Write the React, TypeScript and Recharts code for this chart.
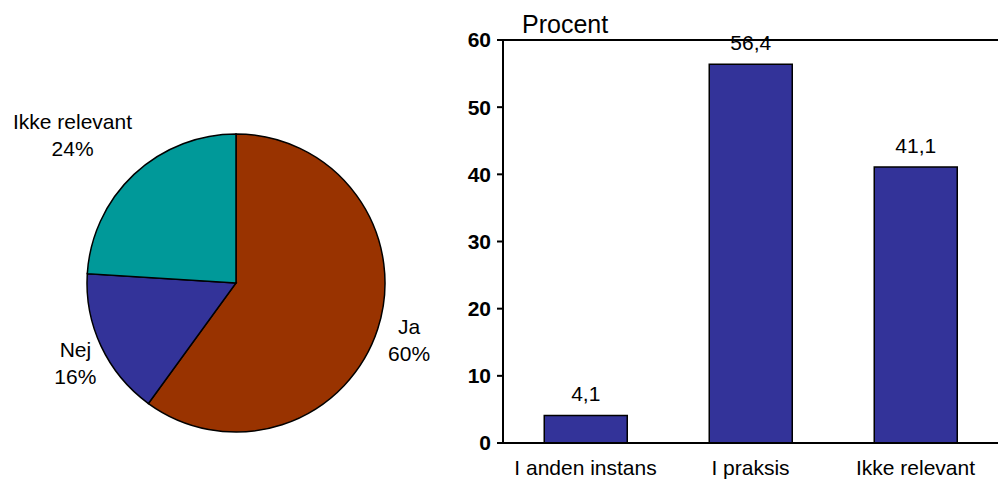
import React from "react";
import {
  PieChart, Pie, Cell, BarChart, Bar, XAxis, YAxis, LabelList, ReferenceLine,
} from "recharts";

const FONT = "'Liberation Sans', Arial, sans-serif";

const pieNames = ["Ja", "Nej", "Ikke relevant"];
const pieValues = [60, 16, 24];
const pieColors = ["#993300", "#333399", "#009999"];

const barCategories = ["I anden instans", "I praksis", "Ikke relevant"];
const barValues = [4.1, 56.4, 41.1];
const yTicks = [0, 10, 20, 30, 40, 50, 60];

const pieData = pieNames.map((name, i) => ({ name, value: pieValues[i] }));
const barData = barCategories.map((name, i) => ({ name, value: barValues[i], pos: i + 0.5 }));

// Excel's "best fit" labels: small per-slice nudges of angle / radius
const LABEL_NUDGE = [
  { da: 0, dr: 0 },
  { da: 1, dr: -3 },
  { da: 4.5, dr: 39 },
];

const RAD = Math.PI / 180;

const PieLabel = (props: any) => {
  const { cx, cy, midAngle, outerRadius, index, name, value } = props;
  const n = LABEL_NUDGE[index] ?? { da: 0, dr: 0 };
  const a = (midAngle + n.da) * RAD;
  const r = outerRadius + 33 + n.dr;
  const x = cx + r * Math.cos(a);
  const y = cy - r * Math.sin(a);
  return (
    <text x={x} y={y} textAnchor="middle" fontSize={21} fontFamily={FONT} fill="#000">
      <tspan x={x} dy={-5}>{name}</tspan>
      <tspan x={x} dy={27}>{value}%</tspan>
    </text>
  );
};

export default function App() {
  return (
    <div style={{ position: "absolute", left: 0, top: 0, width: 999, height: 486, background: "#fff", fontFamily: FONT }}>
      <div style={{ position: "absolute", left: 0, top: 0 }}>
        <PieChart width={470} height={486} margin={{ top: 0, right: 0, bottom: 0, left: 0 }}>
          <Pie data={pieData} dataKey="value" nameKey="name" cx={236} cy={283}
            outerRadius={149} startAngle={90} endAngle={-270}
            stroke="#000" strokeWidth={1.5} isAnimationActive={false}
            label={PieLabel} labelLine={false}>
            {pieData.map((_, i) => <Cell key={i} fill={pieColors[i]} />)}
          </Pie>
        </PieChart>
      </div>

      <div style={{ position: "absolute", left: 522, top: 10, fontSize: 25, lineHeight: "28px", color: "#000" }}>
        Procent
      </div>

      <div style={{ position: "absolute", left: 450, top: 0 }}>
        <BarChart width={549} height={486} data={barData}
          margin={{ top: 40, right: 1, bottom: 0, left: 0 }} barCategoryGap="25%">
          <XAxis dataKey="name" height={43} tickLine={false}
            axisLine={{ stroke: "#000", strokeWidth: 2 }}
            tick={{ fontSize: 21, fill: "#000", fontFamily: FONT }} tickMargin={11} interval={0} />
          <XAxis xAxisId="edges" type="number" dataKey="pos" domain={[0, 3]} ticks={[0, 1, 2, 3]}
            height={0} axisLine={false} tick={false} tickSize={6}
            tickLine={{ stroke: "#000", strokeWidth: 2 }} />
          <YAxis domain={[0, 60]} ticks={yTicks} width={53} interval={0}
            axisLine={{ stroke: "#000", strokeWidth: 2 }}
            tickLine={{ stroke: "#000", strokeWidth: 2 }} tickSize={6} tickMargin={6}
            tick={{ fontSize: 21, fontWeight: "bold", fill: "#000", fontFamily: FONT }} />
          <ReferenceLine y={60} stroke="#000" strokeWidth={2} />
          <Bar dataKey="value" fill="#333399" stroke="#000" strokeWidth={1.5} isAnimationActive={false}>
            <LabelList dataKey="value" position="top" offset={14} fontSize={21} fill="#000"
              fontFamily={FONT}
              formatter={(v: any) => String(v).replace(".", ",")} />
          </Bar>
        </BarChart>
      </div>
    </div>
  );
}
